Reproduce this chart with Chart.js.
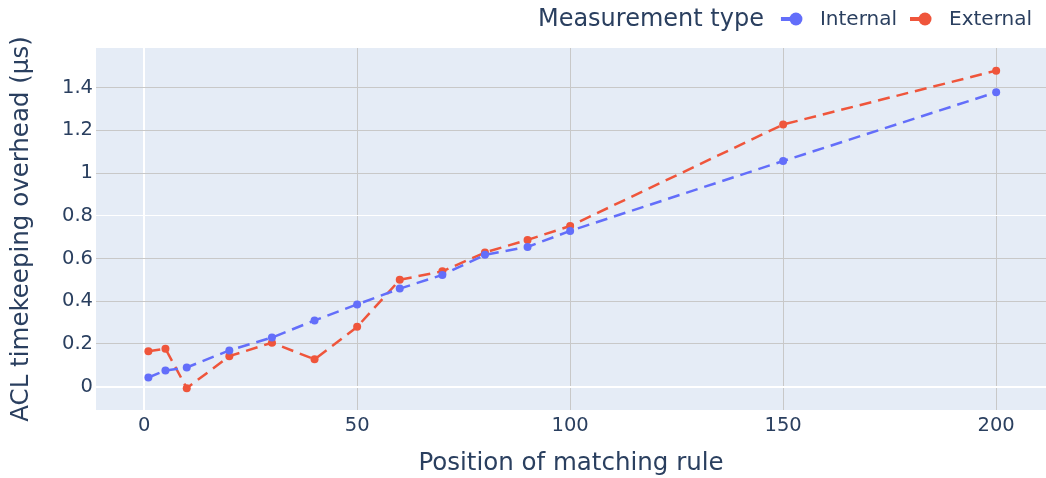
<!DOCTYPE html>
<html>
<head>
<meta charset="utf-8">
<script src="https://cdn.jsdelivr.net/npm/chart.js@4"></script>
<style>
  html, body { margin: 0; padding: 0; background: #fff; }
  #wrap { width: 1046px; height: 478px; }
</style>
</head>
<body>
<div id="wrap"><canvas id="myChart" width="1046" height="478"></canvas></div>
<script>
"use strict";

// rule positions and measured overhead (µs)
const positions = [1, 5, 10, 20, 30, 40, 50, 60, 70, 80, 90, 100, 150, 200];
const internal = [0.043, 0.076, 0.09, 0.17, 0.23, 0.31, 0.385, 0.459, 0.523, 0.617, 0.654, 0.729, 1.056, 1.378];
const external = [0.166, 0.178, -0.007, 0.143, 0.206, 0.128, 0.28, 0.5, 0.54, 0.628, 0.687, 0.752, 1.227, 1.479];
const xTicks = [0, 50, 100, 150, 200];
const yTicks = [0, 0.2, 0.4, 0.6, 0.8, 1, 1.2, 1.4];

const FONT = "'DejaVu Sans', Verdana, sans-serif";
const TEXT = "#2a3f5f";

const toPoints = (vals) => positions.map((p, i) => ({ x: p, y: vals[i] }));

// plot background
const bgPlugin = {
  id: "bg",
  beforeDraw(chart) {
    const { ctx, chartArea: a } = chart;
    ctx.save();
    ctx.fillStyle = "#e5ecf6";
    ctx.fillRect(a.left, a.top, a.right - a.left, a.bottom - a.top);
    ctx.restore();
  },
};

// plotly-like horizontal legend with title
const legendPlugin = {
  id: "plotlyLegend",
  afterDraw(chart) {
    const ctx = chart.ctx;
    const y = 19;
    const title = "Measurement type";
    ctx.save();
    ctx.textBaseline = "middle";
    ctx.font = "20px " + FONT;
    const items = chart.data.datasets.map((d) => ({
      label: d.label,
      color: d.borderColor,
      w: ctx.measureText(d.label).width,
    }));
    ctx.font = "24px " + FONT;
    const titleW = ctx.measureText(title).width;
    let total = titleW;
    items.forEach((it) => (total += 17 + 39 + it.w));
    let x = 1036 - total;
    ctx.fillStyle = TEXT;
    ctx.fillText(title, x, y + 1);
    x += titleW + 17;
    items.forEach((it) => {
      ctx.strokeStyle = it.color;
      ctx.fillStyle = it.color;
      ctx.lineWidth = 4;
      ctx.beginPath();
      ctx.moveTo(x, y);
      ctx.lineTo(x + 15, y);
      ctx.stroke();
      ctx.beginPath();
      ctx.arc(x + 15, y, 6.5, 0, Math.PI * 2);
      ctx.fill();
      x += 39;
      ctx.font = "20px " + FONT;
      ctx.fillStyle = TEXT;
      ctx.fillText(it.label, x, y + 1);
      x += it.w + 13;
    });
    ctx.restore();
  },
};

const gridColor = (c) => {
  const v = c.tick ? c.tick.value : null;
  if (v === 0) return "#ffffff";
  if (v === 0.8) return "#ffffff";
  return "#c8c8c8";
};
const gridWidth = (c) => (c.tick && c.tick.value === 0 ? 2 : 1);

const ctx = document.getElementById("myChart").getContext("2d");
const myChart = new Chart(ctx, {
  type: "line",
  data: {
    datasets: [
      {
        label: "Internal",
        data: toPoints(internal),
        borderColor: "#636efa",
        backgroundColor: "#636efa",
        borderWidth: 2.5,
        borderDash: [12, 7],
        pointRadius: 4,
        pointBorderWidth: 0,
        tension: 0,
      },
      {
        label: "External",
        data: toPoints(external),
        borderColor: "#ef553b",
        backgroundColor: "#ef553b",
        borderWidth: 2.5,
        borderDash: [12, 7],
        pointRadius: 4,
        pointBorderWidth: 0,
        tension: 0,
      },
    ],
  },
  options: {
    responsive: false,
    animation: false,
    layout: { autoPadding: false, padding: { top: 48, right: 0, left: 0, bottom: 0 } },
    plugins: {
      legend: { display: false },
      tooltip: { enabled: false },
    },
    scales: {
      x: {
        type: "linear",
        min: -11.3,
        max: 211.7,
        afterBuildTicks: (s) => (s.ticks = xTicks.map((v) => ({ value: v }))),
        afterFit: (s) => (s.height = 68),
        grid: { color: gridColor, lineWidth: gridWidth, drawTicks: false },
        border: { display: false },
        ticks: { color: TEXT, font: { family: FONT, size: 19.5 }, padding: 4 },
        title: {
          display: true,
          text: "Position of matching rule",
          color: TEXT,
          font: { family: FONT, size: 24.5 },
          padding: { top: 4, bottom: 0 },
        },
      },
      y: {
        min: -0.109,
        max: 1.585,
        afterBuildTicks: (s) => (s.ticks = yTicks.map((v) => ({ value: v }))),
        afterFit: (s) => (s.width = 96),
        grid: { color: gridColor, lineWidth: gridWidth, drawTicks: false },
        border: { display: false },
        ticks: {
          color: TEXT,
          font: { family: FONT, size: 19.5 },
          padding: 3,
          callback: (v) => String(Math.round(v * 10) / 10),
        },
        title: {
          display: true,
          text: "ACL timekeeping overhead (μs)",
          color: TEXT,
          font: { family: FONT, size: 24.5 },
          padding: { top: 7, bottom: 4 },
        },
      },
    },
  },
  plugins: [bgPlugin, legendPlugin],
});
</script>
</body>
</html>
